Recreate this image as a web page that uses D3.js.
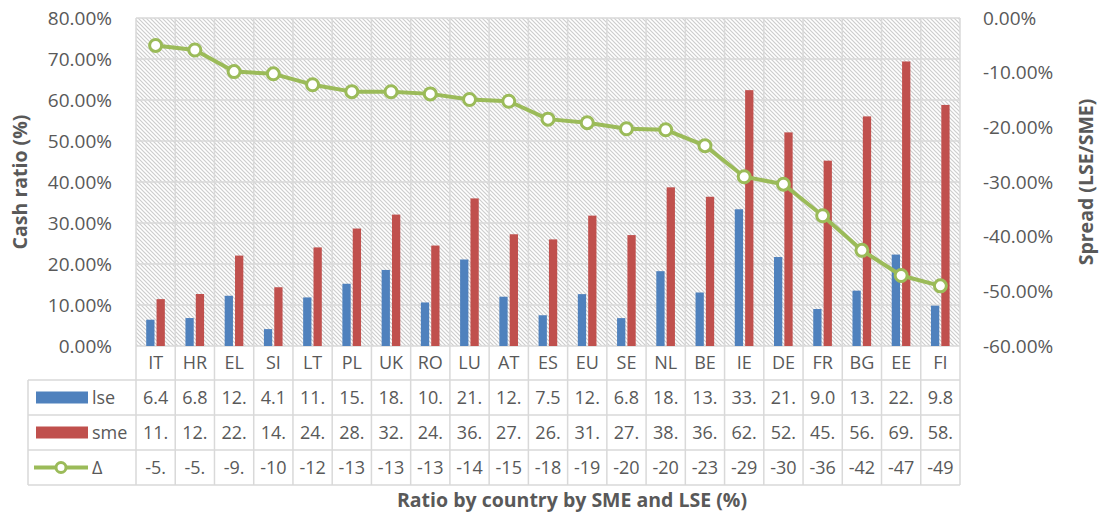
<!doctype html>
<html lang="en">
  <head>
    <meta charset="utf-8">
    <title>cash ratio by country</title>
    <script src="https://d3js.org/d3.v7.min.js"></script>
    <style>
      body { margin: 0; background: #fff; }
      text { font-family: 'Open Sans', sans-serif; fill: #595959; }
      .bold { font-weight: bold; }
    </style>
  </head>
  <body>
    <div id="root"></div>
  </body>
  <script>

    //data:
    const categories = ["IT","HR","EL","SI","LT","PL","UK","RO","LU","AT","ES",
                        "EU","SE","NL","BE","IE","DE","FR","BG","EE","FI"];
    const lse = [6.41, 6.82, 12.25, 4.12, 11.85, 15.18, 18.55, 10.62, 21.10, 12.02, 7.50,
                 12.65, 6.80, 18.25, 13.05, 33.35, 21.70, 9.02, 13.50, 22.30, 9.84];
    const sme = [11.43, 12.68, 22.05, 14.33, 24.05, 28.65, 32.05, 24.50, 36.00, 27.25, 26.00,
                 31.80, 27.05, 38.70, 36.40, 62.40, 52.10, 45.20, 56.00, 69.40, 58.80];
    const delta = [-5.02, -5.86, -9.80, -10.21, -12.20, -13.47, -13.50, -13.88, -14.90, -15.23, -18.50,
                   -19.15, -20.25, -20.45, -23.35, -29.05, -30.40, -36.18, -42.50, -47.10, -49.00];
    const leftTicks = [0, 10, 20, 30, 40, 50, 60, 70, 80];
    const rightTicks = [0, -10, -20, -30, -40, -50, -60];

    const colors = { lse: "#4F81BD", sme: "#C0504D", delta: "#9BBB59" };
    const grid = "#d9d9d9";

    //layout:
    const width = 1099, height = 519;
    const plot = { left: 136, right: 960, top: 18, bottom: 346 };
    const rows = [346, 380, 415, 450, 485];
    const tableLeft = 28;

    const svg = d3.select("#root").append("svg")
      .attr("width", width)
      .attr("height", height);

    //hatch pattern for the plot area
    const pat = svg.append("defs").append("pattern")
      .attr("id", "hatch")
      .attr("patternUnits", "userSpaceOnUse")
      .attr("width", 4).attr("height", 4);
    pat.append("rect").attr("width", 4).attr("height", 4).attr("fill", "#fff");
    pat.append("path")
      .attr("d", "M-1,-1 L5,5 M-1,3 L1,5 M3,-1 L5,1")
      .attr("stroke", "#cdcdcd")
      .attr("stroke-width", 1.2);

    //scales:
    const x = d3.scaleBand().domain(categories).range([plot.left, plot.right]).padding(0);
    const bw = x.bandwidth();
    const x1 = d3.scaleBand().domain(["lse", "sme"]).range([bw * 0.26, bw * 0.735]).paddingInner(0.2);
    const yL = d3.scaleLinear().domain([0, 80]).range([plot.bottom, plot.top]);
    const yR = d3.scaleLinear().domain([-60, 0]).range([plot.bottom, plot.top]);

    svg.append("rect")
      .attr("x", plot.left).attr("y", plot.top)
      .attr("width", plot.right - plot.left).attr("height", plot.bottom - plot.top)
      .attr("fill", "url(#hatch)");

    //horizontal gridlines
    svg.append("g").selectAll("line")
      .data(leftTicks)
      .enter().append("line")
      .attr("x1", plot.left).attr("x2", plot.right)
      .attr("y1", d => yL(d)).attr("y2", d => yL(d))
      .attr("stroke", grid).attr("stroke-width", 1.5);

    //vertical gridlines (through the data table too)
    const edges = categories.map(c => x(c)).concat([plot.right]);
    svg.append("g").selectAll("line")
      .data(edges)
      .enter().append("line")
      .attr("x1", d => d).attr("x2", d => d)
      .attr("y1", plot.top).attr("y2", rows[4])
      .attr("stroke", grid).attr("stroke-width", 1.5);

    //table rows
    svg.append("g").selectAll("line")
      .data(rows.slice(1))
      .enter().append("line")
      .attr("x1", tableLeft).attr("x2", plot.right)
      .attr("y1", d => d).attr("y2", d => d)
      .attr("stroke", grid).attr("stroke-width", 1.5);
    svg.append("line")
      .attr("x1", tableLeft).attr("x2", tableLeft)
      .attr("y1", rows[1]).attr("y2", rows[4])
      .attr("stroke", grid).attr("stroke-width", 1.5);

    //bars
    const barData = [];
    categories.forEach((c, i) => {
      barData.push({ c: c, key: "lse", v: lse[i] });
      barData.push({ c: c, key: "sme", v: sme[i] });
    });
    svg.append("g").selectAll("rect")
      .data(barData)
      .enter().append("rect")
      .attr("x", d => x(d.c) + x1(d.key))
      .attr("y", d => yL(d.v))
      .attr("width", x1.bandwidth())
      .attr("height", d => yL(0) - yL(d.v))
      .attr("fill", d => colors[d.key]);

    //line
    const cx = c => x(c) + bw / 2;
    const line = d3.line()
      .x((d, i) => cx(categories[i]))
      .y(d => yR(d));
    svg.append("path")
      .datum(delta)
      .attr("d", line)
      .attr("fill", "none")
      .attr("stroke", colors.delta)
      .attr("stroke-width", 4)
      .attr("stroke-linejoin", "round");
    svg.append("g").selectAll("circle")
      .data(delta)
      .enter().append("circle")
      .attr("cx", (d, i) => cx(categories[i]))
      .attr("cy", d => yR(d))
      .attr("r", 6)
      .attr("fill", "#fff")
      .attr("stroke", colors.delta)
      .attr("stroke-width", 3);

    //axes
    const axL = svg.append("g")
      .attr("transform", `translate(${plot.left},0)`)
      .call(d3.axisLeft(yL).tickValues(leftTicks).tickSize(0).tickPadding(24)
        .tickFormat(d => d.toFixed(2) + "%"));
    const axR = svg.append("g")
      .attr("transform", `translate(${plot.right},0)`)
      .call(d3.axisRight(yR).tickValues(rightTicks).tickSize(0).tickPadding(23)
        .tickFormat(d => d.toFixed(2) + "%"));
    [axL, axR].forEach(a => {
      a.select(".domain").remove();
      a.selectAll("text")
        .attr("font-family", "'Open Sans', sans-serif")
        .attr("font-size", 19)
        .attr("fill", "#595959");
    });

    //category labels
    svg.append("g").selectAll("text")
      .data(categories)
      .enter().append("text")
      .attr("x", d => cx(d))
      .attr("y", (rows[0] + rows[1]) / 2)
      .attr("dy", "0.35em")
      .attr("text-anchor", "middle")
      .attr("font-size", 18)
      .text(d => d);

    //table values, cut to what fits in a cell
    const tableRows = [lse, sme, delta];
    tableRows.forEach((vals, r) => {
      svg.append("g").selectAll("text")
        .data(vals)
        .enter().append("text")
        .attr("x", (d, i) => cx(categories[i]))
        .attr("y", (rows[r + 1] + rows[r + 2]) / 2)
        .attr("dy", "0.35em")
        .attr("text-anchor", "middle")
        .attr("font-size", 18)
        .text(d => d.toFixed(2).slice(0, 3));
    });

    //legend keys in the table
    const legend = svg.append("g");
    ["lse", "sme"].forEach((k, r) => {
      const yc = (rows[r + 1] + rows[r + 2]) / 2;
      legend.append("rect")
        .attr("x", 36).attr("y", yc - 6)
        .attr("width", 52).attr("height", 12)
        .attr("fill", colors[k]);
      legend.append("text")
        .attr("x", 92).attr("y", yc)
        .attr("dy", "0.35em")
        .attr("font-size", 18)
        .text(k);
    });
    const yd = (rows[3] + rows[4]) / 2;
    legend.append("line")
      .attr("x1", 34).attr("x2", 88)
      .attr("y1", yd).attr("y2", yd)
      .attr("stroke", colors.delta).attr("stroke-width", 4);
    legend.append("circle")
      .attr("cx", 61).attr("cy", yd).attr("r", 5)
      .attr("fill", "#fff").attr("stroke", colors.delta).attr("stroke-width", 3);
    legend.append("text")
      .attr("x", 92).attr("y", yd)
      .attr("dy", "0.35em")
      .attr("font-size", 18)
      .text("Δ");

    //titles
    const midY = (plot.top + plot.bottom) / 2;
    svg.append("text")
      .attr("class", "bold")
      .attr("transform", `translate(20,${midY}) rotate(-90)`)
      .attr("dy", "0.35em")
      .attr("text-anchor", "middle")
      .attr("font-size", 19.5)
      .text("Cash ratio (%)");
    svg.append("text")
      .attr("class", "bold")
      .attr("transform", `translate(1086,${midY}) rotate(-90)`)
      .attr("dy", "0.35em")
      .attr("text-anchor", "middle")
      .attr("font-size", 19.5)
      .text("Spread (LSE/SME)");
    svg.append("text")
      .attr("class", "bold")
      .attr("x", 572).attr("y", 500)
      .attr("dy", "0.35em")
      .attr("text-anchor", "middle")
      .attr("font-size", 19.5)
      .text("Ratio by country by SME and LSE (%)");

  </script>
</html>
